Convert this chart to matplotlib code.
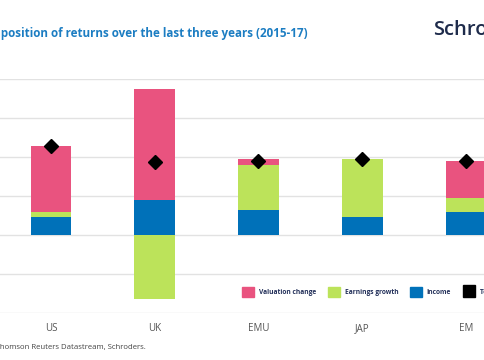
import matplotlib
matplotlib.use("Agg")
import matplotlib.pyplot as plt
import numpy as np
from matplotlib.patches import Patch
from matplotlib.lines import Line2D

REGIONS = ["US", "UK", "EMU", "JAP", "EM"]
INCOME = [4.6, 9.0, 6.4, 4.6, 5.8]
EARNINGS = [1.3, -16.4, 11.5, 14.8, 3.6]
VALUATION = [16.8, 28.5, 1.5, 0.2, 9.6]
TOTAL = [22.7, 18.8, 19.1, 19.6, 19.0]
Y_TICKS = [-20, -10, 0, 10, 20, 30, 40]

PINK = "#e9537f"
GREEN = "#bce35a"
BLUE = "#0071b9"
TITLE_BLUE = "#1c7dc2"
NAVY = "#23305a"
GRID = "#e2e2e2"
W, H = 485, 360

plt.rcParams["font.family"] = ["Open Sans", "DejaVu Sans"]

fig = plt.figure(figsize=(W / 100, H / 100), dpi=100)

# axes run past both figure edges: the reference is a crop
x0, x1 = -0.7, 4.7
px_left = 51 - 103.75 * (0 - x0)
px_right = 51 + 103.75 * (x1 - 0)
ax = fig.add_axes([px_left / W, (H - 313) / H, (px_right - px_left) / W, 234 / H])
ax.set_xlim(x0, x1)
ax.set_ylim(-20, 40)

x = np.arange(len(REGIONS))
pos_bottom = np.zeros(len(REGIONS))
neg_bottom = np.zeros(len(REGIONS))
for vals, col in [(INCOME, BLUE), (EARNINGS, GREEN), (VALUATION, PINK)]:
    vals = np.array(vals, dtype=float)
    bottom = np.where(vals >= 0, pos_bottom, neg_bottom)
    ax.bar(x, vals, 0.395, bottom=bottom, color=col, zorder=2)
    pos_bottom += np.where(vals >= 0, vals, 0)
    neg_bottom += np.where(vals < 0, vals, 0)
ax.plot(x, TOTAL, "D", color="black", ms=7, zorder=3, ls="none")

ax.set_yticks(Y_TICKS)
ax.grid(axis="y", color=GRID, lw=1.0, zorder=0)
ax.tick_params(length=0, labelleft=False)
ax.set_xticks(x)
ax.set_xticklabels(REGIONS, fontsize=7, color="#555555")
ax.tick_params(axis="x", pad=7)
for s in ax.spines.values():
    s.set_visible(False)

handles = [
    Patch(color=PINK, label="Valuation change"),
    Patch(color=GREEN, label="Earnings growth"),
    Patch(color=BLUE, label="Income"),
    Line2D([], [], marker="s", color="black", ls="none", ms=9, label="Total return"),
]
leg = fig.legend(handles=handles, loc="center left", bbox_to_anchor=(236 / W, (H - 292) / H),
                 ncol=4, frameon=False, handlelength=1.8, handleheight=1.8,
                 columnspacing=1.8, handletextpad=0.7,
                 prop={"size": 4.8, "weight": "bold"})
for t in leg.get_texts():
    t.set_color(NAVY)

renderer = fig.canvas.get_renderer()


def cropped_text(hidden, shown, x_px, y_px, **kw):
    # place text so that the hidden prefix falls left of the figure edge
    probe = fig.text(0, 0, hidden, **kw)
    w = probe.get_window_extent(renderer).width
    probe.remove()
    fig.text((x_px - w) / W, (H - y_px) / H, hidden + shown, va="center", ha="left", **kw)


cropped_text("Decom", "position of returns over the last three years (2015-17)", 1, 33,
             fontsize=8.4, fontweight="bold", color=TITLE_BLUE)
cropped_text("Source: T", "homson Reuters Datastream, Schroders.", 0, 347,
             fontsize=5.6, color="#444444")
fig.text(433 / W, (H - 30) / H, "Schroders", fontsize=14.5, fontweight="semibold",
         color="#1e2b4b", va="center", ha="left")

fig.savefig("out.png", dpi=100)
